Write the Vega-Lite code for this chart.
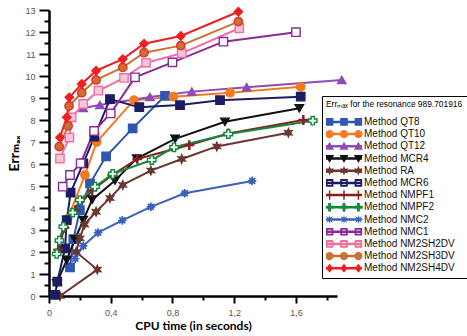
{
"$schema": "https://vega.github.io/schema/vega-lite/v6.json",
"width": 288, "height": 286,
"autosize": {"type": "none"},
"padding": {"left": 49, "top": 10, "right": 130, "bottom": 40},
"background": "white",
"config": {
 "view": {"stroke": null},
 "legend": {"symbolOpacity": 1}
},
"data": {"values": [
{"m":"Method QT8","i":0,"x":0.136,"y":1.3},{"m":"Method QT8","i":1,"x":0.158,"y":2.58},{"m":"Method QT8","i":2,"x":0.2,"y":3.9},{"m":"Method QT8","i":3,"x":0.266,"y":5.12},{"m":"Method QT8","i":4,"x":0.37,"y":6.35},{"m":"Method QT8","i":5,"x":0.542,"y":7.62},{"m":"Method QT8","i":6,"x":0.752,"y":9.1},
{"m":"Method QT10","i":0,"x":0.12,"y":3.5},{"m":"Method QT10","i":1,"x":0.233,"y":5.5},{"m":"Method QT10","i":2,"x":0.309,"y":7.0},{"m":"Method QT10","i":3,"x":0.55,"y":8.9},{"m":"Method QT10","i":4,"x":0.806,"y":9.06},{"m":"Method QT10","i":5,"x":1.173,"y":9.24},{"m":"Method QT10","i":6,"x":1.631,"y":9.51},
{"m":"Method QT12","i":0,"x":0.222,"y":8.55},{"m":"Method QT12","i":1,"x":0.33,"y":8.68},{"m":"Method QT12","i":2,"x":0.654,"y":9.05},{"m":"Method QT12","i":3,"x":0.925,"y":9.29},{"m":"Method QT12","i":4,"x":1.281,"y":9.49},{"m":"Method QT12","i":5,"x":1.897,"y":9.82},
{"m":"Method MCR4","i":0,"x":0.05,"y":0.58},{"m":"Method MCR4","i":1,"x":0.115,"y":1.64},{"m":"Method MCR4","i":2,"x":0.168,"y":2.58},{"m":"Method MCR4","i":3,"x":0.222,"y":3.45},{"m":"Method MCR4","i":4,"x":0.28,"y":4.38},{"m":"Method MCR4","i":5,"x":0.428,"y":5.25},{"m":"Method MCR4","i":6,"x":0.568,"y":6.25},{"m":"Method MCR4","i":7,"x":0.817,"y":7.14},{"m":"Method MCR4","i":8,"x":1.14,"y":7.92},{"m":"Method MCR4","i":9,"x":1.622,"y":8.53},
{"m":"Method RA","i":0,"x":0.071,"y":0.0},{"m":"Method RA","i":1,"x":0.313,"y":1.2},{"m":"Method RA","i":2,"x":0.175,"y":2.0},{"m":"Method RA","i":3,"x":0.2,"y":2.62},{"m":"Method RA","i":4,"x":0.23,"y":3.25},{"m":"Method RA","i":5,"x":0.305,"y":3.83},{"m":"Method RA","i":6,"x":0.395,"y":4.45},{"m":"Method RA","i":7,"x":0.478,"y":5.05},{"m":"Method RA","i":8,"x":0.66,"y":5.7},{"m":"Method RA","i":9,"x":0.86,"y":6.23},{"m":"Method RA","i":10,"x":1.087,"y":6.8},{"m":"Method RA","i":11,"x":1.551,"y":7.42},
{"m":"Method MCR6","i":0,"x":0.039,"y":0.05},{"m":"Method MCR6","i":1,"x":0.054,"y":0.65},{"m":"Method MCR6","i":2,"x":0.104,"y":2.17},{"m":"Method MCR6","i":3,"x":0.115,"y":3.45},{"m":"Method MCR6","i":4,"x":0.14,"y":4.7},{"m":"Method MCR6","i":5,"x":0.222,"y":6.03},{"m":"Method MCR6","i":6,"x":0.294,"y":7.24},{"m":"Method MCR6","i":7,"x":0.395,"y":8.95},{"m":"Method MCR6","i":8,"x":0.585,"y":8.58},{"m":"Method MCR6","i":9,"x":0.849,"y":8.68},{"m":"Method MCR6","i":10,"x":1.108,"y":8.9},{"m":"Method MCR6","i":11,"x":1.631,"y":9.06},
{"m":"Method NMPF1","i":0,"x":0.06,"y":2.1},{"m":"Method NMPF1","i":1,"x":0.1,"y":3.1},{"m":"Method NMPF1","i":2,"x":0.17,"y":3.9},{"m":"Method NMPF1","i":3,"x":0.28,"y":4.8},{"m":"Method NMPF1","i":4,"x":0.41,"y":5.5},{"m":"Method NMPF1","i":5,"x":0.572,"y":6.23},{"m":"Method NMPF1","i":6,"x":0.909,"y":6.86},{"m":"Method NMPF1","i":7,"x":1.162,"y":7.39},{"m":"Method NMPF1","i":8,"x":1.648,"y":8.0},
{"m":"Method NMPF2","i":0,"x":0.05,"y":1.91},{"m":"Method NMPF2","i":1,"x":0.067,"y":2.52},{"m":"Method NMPF2","i":2,"x":0.093,"y":3.15},{"m":"Method NMPF2","i":3,"x":0.153,"y":3.79},{"m":"Method NMPF2","i":4,"x":0.2,"y":4.36},{"m":"Method NMPF2","i":5,"x":0.298,"y":4.97},{"m":"Method NMPF2","i":6,"x":0.413,"y":5.55},{"m":"Method NMPF2","i":7,"x":0.666,"y":6.18},{"m":"Method NMPF2","i":8,"x":0.81,"y":6.76},{"m":"Method NMPF2","i":9,"x":1.162,"y":7.36},{"m":"Method NMPF2","i":10,"x":1.709,"y":7.97},
{"m":"Method NMC2","i":0,"x":0.17,"y":1.7},{"m":"Method NMC2","i":1,"x":0.222,"y":2.28},{"m":"Method NMC2","i":2,"x":0.318,"y":2.88},{"m":"Method NMC2","i":3,"x":0.475,"y":3.44},{"m":"Method NMC2","i":4,"x":0.66,"y":4.05},{"m":"Method NMC2","i":5,"x":0.88,"y":4.67},{"m":"Method NMC2","i":6,"x":1.316,"y":5.23},
{"m":"Method NMC1","i":0,"x":0.089,"y":4.97},{"m":"Method NMC1","i":1,"x":0.136,"y":5.5},{"m":"Method NMC1","i":2,"x":0.205,"y":6.03},{"m":"Method NMC1","i":3,"x":0.292,"y":7.5},{"m":"Method NMC1","i":4,"x":0.4,"y":8.3},{"m":"Method NMC1","i":5,"x":0.557,"y":9.94},{"m":"Method NMC1","i":6,"x":0.8,"y":10.62},{"m":"Method NMC1","i":7,"x":1.13,"y":11.56},{"m":"Method NMC1","i":8,"x":1.6,"y":11.99},
{"m":"Method NM2SH2DV","i":0,"x":0.071,"y":6.25},{"m":"Method NM2SH2DV","i":1,"x":0.132,"y":7.2},{"m":"Method NM2SH2DV","i":2,"x":0.147,"y":8.12},{"m":"Method NM2SH2DV","i":3,"x":0.222,"y":8.73},{"m":"Method NM2SH2DV","i":4,"x":0.32,"y":9.33},{"m":"Method NM2SH2DV","i":5,"x":0.486,"y":9.91},{"m":"Method NM2SH2DV","i":6,"x":0.629,"y":10.6},{"m":"Method NM2SH2DV","i":7,"x":0.86,"y":11.03},{"m":"Method NM2SH2DV","i":8,"x":1.233,"y":12.17},
{"m":"Method NM2SH3DV","i":0,"x":0.066,"y":6.79},{"m":"Method NM2SH3DV","i":1,"x":0.124,"y":7.73},{"m":"Method NM2SH3DV","i":2,"x":0.13,"y":8.64},{"m":"Method NM2SH3DV","i":3,"x":0.212,"y":9.24},{"m":"Method NM2SH3DV","i":4,"x":0.305,"y":9.82},{"m":"Method NM2SH3DV","i":5,"x":0.478,"y":10.39},{"m":"Method NM2SH3DV","i":6,"x":0.616,"y":11.06},{"m":"Method NM2SH3DV","i":7,"x":0.854,"y":11.38},{"m":"Method NM2SH3DV","i":8,"x":1.227,"y":12.47},
{"m":"Method NM2SH4DV","i":0,"x":0.071,"y":7.21},{"m":"Method NM2SH4DV","i":1,"x":0.115,"y":8.12},{"m":"Method NM2SH4DV","i":2,"x":0.132,"y":9.03},{"m":"Method NM2SH4DV","i":3,"x":0.212,"y":9.64},{"m":"Method NM2SH4DV","i":4,"x":0.305,"y":10.24},{"m":"Method NM2SH4DV","i":5,"x":0.478,"y":10.77},{"m":"Method NM2SH4DV","i":6,"x":0.616,"y":11.47},{"m":"Method NM2SH4DV","i":7,"x":0.854,"y":11.82},{"m":"Method NM2SH4DV","i":8,"x":1.227,"y":12.92}
]},
"encoding": {
 "x": {"field": "x", "type": "quantitative", "scale": {"domain": [0, 1.866], "nice": false, "zero": false},
  "axis": {"title": "CPU time (in seconds)", "grid": false, "values": [0,0.2,0.4,0.6,0.8,1,1.2,1.4,1.6,1.8],
   "labelExpr": "datum.value == 0 ? '0' : (round(datum.value*10) % 4 == 0 ? replace(format(datum.value, '.1f'), '.', ',') : '')",
   "tickSize": {"condition": {"test": "round(datum.value*10) % 4 == 0", "value": 7}, "value": 4},
   "domainColor": "black", "domainWidth": 2.5, "tickColor": "black", "tickWidth": 2,
   "labelFont": "Liberation Sans", "labelFontSize": 9, "labelColor": "#555555", "labelPadding": 5, "labelOverlap": false, "labelFlush": false,
   "titleFont": "Lato", "titleFontSize": 12, "titleFontWeight": "bold", "titleColor": "black", "titlePadding": 3}},
 "y": {"field": "y", "type": "quantitative", "scale": {"domain": [0, 13], "nice": false},
  "axis": {"title": "Errₘₐₓ", "grid": false, "values": [0,0.5,1,1.5,2,2.5,3,3.5,4,4.5,5,5.5,6,6.5,7,7.5,8,8.5,9,9.5,10,10.5,11,11.5,12,12.5,13],
   "labelExpr": "datum.value % 1 == 0 ? format(datum.value, 'd') : ''",
   "tickSize": {"condition": {"test": "datum.value % 1 == 0", "value": 10}, "value": 5},
   "domainColor": "black", "domainWidth": 2.5, "tickColor": "black", "tickWidth": 2,
   "labelFont": "Liberation Sans", "labelFontSize": 9, "labelColor": "#555555", "labelPadding": 4, "labelOverlap": false, "labelFlush": false,
   "titleFont": "Lato, DejaVu Sans", "titleFontSize": 14, "titleFontWeight": "bold", "titleColor": "black", "titlePadding": 3}}
},
"layer": [
 {"mark": {"type": "line", "strokeWidth": 2},
  "encoding": {
   "stroke": {"field": "m", "type": "nominal", "legend": null,
    "scale": {"domain": ["Method QT8","Method QT10","Method QT12","Method MCR4","Method RA","Method MCR6","Method NMPF1","Method NMPF2","Method NMC2","Method NMC1","Method NM2SH2DV","Method NM2SH3DV","Method NM2SH4DV"],
     "range": ["#2F56B0","#F47A20","#8E4BB5","#111111","#6B3530","#1C1C66","#8B1C22","#12883A","#3A62BA","#8B2A96","#F06EA0","#C87133","#F01E1E"]}},
   "order": {"field": "i", "type": "quantitative"}}},
 {"mark": {"type": "point", "filled": true, "size": 70, "strokeWidth": 1.4, "opacity": 1},
  "encoding": {
   "shape": {"field": "m", "type": "nominal", "legend": null,
    "scale": {"domain": ["Method QT8","Method QT10","Method QT12","Method MCR4","Method RA","Method MCR6","Method NMPF1","Method NMPF2","Method NMC2","Method NMC1","Method NM2SH2DV","Method NM2SH3DV","Method NM2SH4DV"],
     "range": ["square","circle","triangle-up","triangle-down","M0,-1L0.24,-0.416L0.866,-0.5L0.48,0L0.866,0.5L0.24,0.416L0,1L-0.24,0.416L-0.866,0.5L-0.48,0L-0.866,-0.5L-0.24,-0.416Z","square","M-1,-0.12H1V0.12H-1Z M-0.12,-1H0.12V1H-0.12Z","cross","M0,-1L0.134,-0.323L0.707,-0.707L0.323,-0.134L1,0L0.323,0.134L0.707,0.707L0.134,0.323L0,1L-0.134,0.323L-0.707,0.707L-0.323,0.134L-1,0L-0.323,-0.134L-0.707,-0.707L-0.134,-0.323Z","square","square","circle","diamond"]}},
   "fill": {"field": "m", "type": "nominal", "legend": null,
    "scale": {"domain": ["Method QT8","Method QT10","Method QT12","Method MCR4","Method RA","Method MCR6","Method NMPF1","Method NMPF2","Method NMC2","Method NMC1","Method NM2SH2DV","Method NM2SH3DV","Method NM2SH4DV"],
     "range": ["#2F56B0","#F47A20","#8E4BB5","#111111","#6B3530","#1C1C66","#8B1C22","#FFFFFF","#3A62BA","#FFFFFF","#F9C6DC","#C87133","#F01E1E"]}},
   "stroke": {"field": "m", "type": "nominal", "legend": null,
    "scale": {"domain": ["Method QT8","Method QT10","Method QT12","Method MCR4","Method RA","Method MCR6","Method NMPF1","Method NMPF2","Method NMC2","Method NMC1","Method NM2SH2DV","Method NM2SH3DV","Method NM2SH4DV"],
     "range": ["#2F56B0","#F47A20","#8E4BB5","#111111","#6B3530","#1C1C66","#8B1C22","#12883A","#3A62BA","#8B2A96","#F06EA0","#E8302A","#F01E1E"]}}}},
 {"mark": {"type": "point", "filled": true, "opacity": 0, "size": 1296},
  "encoding": {
   "color": {"field": "m", "type": "nominal",
    "scale": {"domain": ["Method QT8","Method QT10","Method QT12","Method MCR4","Method RA","Method MCR6","Method NMPF1","Method NMPF2","Method NMC2","Method NMC1","Method NM2SH2DV","Method NM2SH3DV","Method NM2SH4DV"],
     "range": ["#2F56B0","#F47A20","#8E4BB5","#111111","#6B3530","#1C1C66","#8B1C22","#12883A","#3A62BA","#8B2A96","#F06EA0","#C87133","#F01E1E"]},
    "legend": {"title": "Errₘₐₓ for the resonance 989.701916", "orient": "none", "legendX": 273, "legendY": 86,
     "fillColor": "white", "strokeColor": "black", "padding": 4,
     "titleFont": "Liberation Sans Narrow, Liberation Sans", "titleFontSize": 8.4, "titleFontWeight": "normal", "titleColor": "black", "titlePadding": 8, "titleLimit": 600,
     "labelFont": "Liberation Sans Narrow, Liberation Sans", "labelFontSize": 10, "labelColor": "#111111", "labelOffset": 2, "labelLimit": 300,
     "symbolSize": 1296, "symbolStrokeWidth": 0, "symbolOpacity": 1, "clipHeight": 11, "rowPadding": 1.2, "symbolOffset": 0}},
   "shape": {"field": "m", "type": "nominal",
    "scale": {"domain": ["Method QT8","Method QT10","Method QT12","Method MCR4","Method RA","Method MCR6","Method NMPF1","Method NMPF2","Method NMC2","Method NMC1","Method NM2SH2DV","Method NM2SH3DV","Method NM2SH4DV"],
     "range": [
      "M-1,-0.07H1V0.07H-1Z M-1.01,-0.21H-0.59V0.21H-1.01Z M-0.21,-0.21H0.21V0.21H-0.21Z M0.59,-0.21H1.01V0.21H0.59Z",
      "M-1,-0.07H1V0.07H-1Z M-1.03,0A0.23,0.23 0 1,1 -0.57,0A0.23,0.23 0 1,1 -1.03,0Z M-0.23,0A0.23,0.23 0 1,1 0.23,0A0.23,0.23 0 1,1 -0.23,0Z M0.57,0A0.23,0.23 0 1,1 1.03,0A0.23,0.23 0 1,1 0.57,0Z",
      "M-1,-0.07H1V0.07H-1Z M-0.8,-0.25L-0.55,0.19L-1.05,0.19Z M0,-0.25L0.25,0.19L-0.25,0.19Z M0.8,-0.25L1.05,0.19L0.55,0.19Z",
      "M-1,-0.07H1V0.07H-1Z M-0.8,0.25L-1.05,-0.19L-0.55,-0.19Z M0,0.25L-0.25,-0.19L0.25,-0.19Z M0.8,0.25L0.55,-0.19L1.05,-0.19Z",
      "M-1,-0.07H1V0.07H-1Z M-0.8,-0.27L-0.735,-0.113L-0.566,-0.135L-0.67,0L-0.566,0.135L-0.735,0.113L-0.8,0.27L-0.865,0.113L-1.034,0.135L-0.93,0L-1.034,-0.135L-0.865,-0.113Z M0,-0.27L0.065,-0.113L0.234,-0.135L0.13,0L0.234,0.135L0.065,0.113L0,0.27L-0.065,0.113L-0.234,0.135L-0.13,0L-0.234,-0.135L-0.065,-0.113Z M0.8,-0.27L0.865,-0.113L1.034,-0.135L0.93,0L1.034,0.135L0.865,0.113L0.8,0.27L0.735,0.113L0.566,0.135L0.67,0L0.566,-0.135L0.735,-0.113Z",
      "M-1,-0.07H1V0.07H-1Z M-1.01,-0.21H-0.59V0.21H-1.01Z M-0.21,-0.21H0.21V0.21H-0.21Z M0.59,-0.21H1.01V0.21H0.59Z M-0.91,-0.11V0.11H-0.69V-0.11Z M-0.11,-0.11V0.11H0.11V-0.11Z M0.69,-0.11V0.11H0.91V-0.11Z",
      "M-1,-0.07H1V0.07H-1Z M-0.84,-0.26H-0.76V0.26H-0.84Z M-0.04,-0.26H0.04V0.26H-0.04Z M0.76,-0.26H0.84V0.26H0.76Z",
      "M-1,-0.07H1V0.07H-1Z M-0.88,-0.24H-0.72V-0.08H-0.56V0.08H-0.72V0.24H-0.88V0.08H-1.04V-0.08H-0.88Z M-0.08,-0.24H0.08V-0.08H0.24V0.08H0.08V0.24H-0.08V0.08H-0.24V-0.08H-0.08Z M0.72,-0.24H0.88V-0.08H1.04V0.08H0.88V0.24H0.72V0.08H0.56V-0.08H0.72Z",
      "M-1,-0.07H1V0.07H-1Z M-0.8,-0.27L-0.762,-0.092L-0.609,-0.191L-0.708,-0.038L-0.53,0L-0.708,0.038L-0.609,0.191L-0.762,0.092L-0.8,0.27L-0.838,0.092L-0.991,0.191L-0.892,0.038L-1.07,0L-0.892,-0.038L-0.991,-0.191L-0.838,-0.092Z M0,-0.27L0.038,-0.092L0.191,-0.191L0.092,-0.038L0.27,0L0.092,0.038L0.191,0.191L0.038,0.092L0,0.27L-0.038,0.092L-0.191,0.191L-0.092,0.038L-0.27,0L-0.092,-0.038L-0.191,-0.191L-0.038,-0.092Z M0.8,-0.27L0.838,-0.092L0.991,-0.191L0.892,-0.038L1.07,0L0.892,0.038L0.991,0.191L0.838,0.092L0.8,0.27L0.762,0.092L0.609,0.191L0.708,0.038L0.53,0L0.708,-0.038L0.609,-0.191L0.762,-0.092Z",
      "M-1,-0.07H1V0.07H-1Z M-1.01,-0.21H-0.59V0.21H-1.01Z M-0.21,-0.21H0.21V0.21H-0.21Z M0.59,-0.21H1.01V0.21H0.59Z M-0.91,-0.11V0.11H-0.69V-0.11Z M-0.11,-0.11V0.11H0.11V-0.11Z M0.69,-0.11V0.11H0.91V-0.11Z",
      "M-1,-0.07H1V0.07H-1Z M-1.01,-0.21H-0.59V0.21H-1.01Z M-0.21,-0.21H0.21V0.21H-0.21Z M0.59,-0.21H1.01V0.21H0.59Z M-0.91,-0.11V0.11H-0.69V-0.11Z M-0.11,-0.11V0.11H0.11V-0.11Z M0.69,-0.11V0.11H0.91V-0.11Z",
      "M-1,-0.07H1V0.07H-1Z M-1.03,0A0.23,0.23 0 1,1 -0.57,0A0.23,0.23 0 1,1 -1.03,0Z M-0.23,0A0.23,0.23 0 1,1 0.23,0A0.23,0.23 0 1,1 -0.23,0Z M0.57,0A0.23,0.23 0 1,1 1.03,0A0.23,0.23 0 1,1 0.57,0Z",
      "M-1,-0.07H1V0.07H-1Z M-0.8,-0.25L-0.6,0L-0.8,0.25L-1,0Z M0,-0.25L0.2,0L0,0.25L-0.2,0Z M0.8,-0.25L1,0L0.8,0.25L0.6,0Z"]},
    "legend": {"title": "Errₘₐₓ for the resonance 989.701916", "orient": "none", "legendX": 273, "legendY": 86,
     "fillColor": "white", "strokeColor": "black", "padding": 4,
     "titleFont": "Liberation Sans Narrow, Liberation Sans", "titleFontSize": 8.4, "titleFontWeight": "normal", "titleColor": "black", "titlePadding": 8, "titleLimit": 600,
     "labelFont": "Liberation Sans Narrow, Liberation Sans", "labelFontSize": 10, "labelColor": "#111111", "labelOffset": 2, "labelLimit": 300,
     "symbolSize": 1296, "symbolStrokeWidth": 0, "symbolOpacity": 1, "clipHeight": 11, "rowPadding": 1.2, "symbolOffset": 0}}}}
],
"resolve": {"scale": {"shape": "independent", "color": "independent", "stroke": "independent", "fill": "independent"}}
}
